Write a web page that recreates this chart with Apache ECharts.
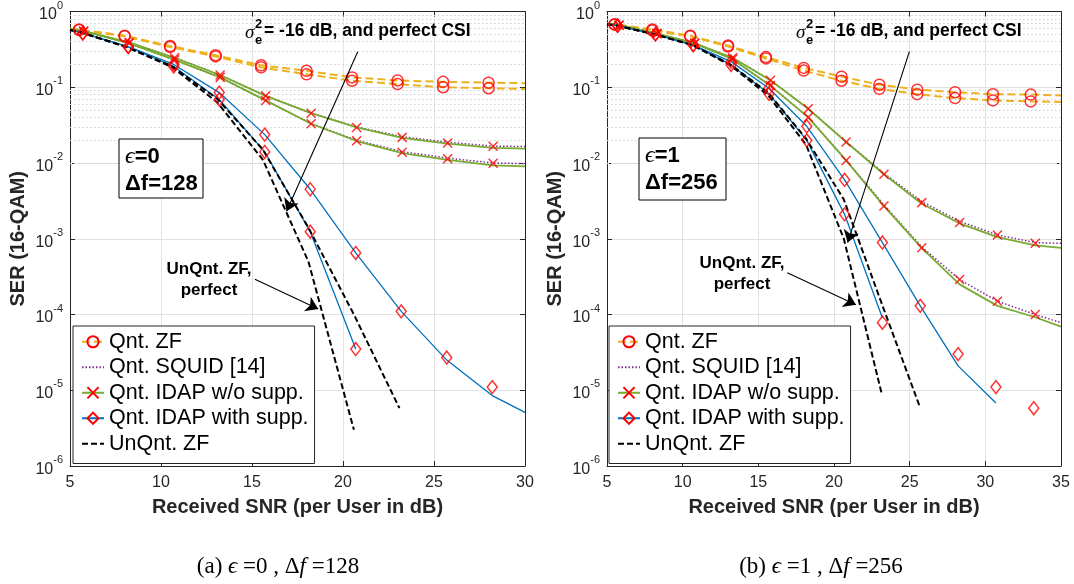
<!DOCTYPE html>
<html>
<head>
<meta charset="utf-8">
<script src="https://cdn.jsdelivr.net/npm/echarts@6/dist/echarts.min.js"></script>
<style>
html, body { margin: 0; padding: 0; background: #fff; }
#container { width: 1074px; height: 584px; }
</style>
</head>
<body>
<div id="container"></div>
<script>
// SER vs received SNR, two panels. "Csi" = sigma_e^2 = -16 dB curve, "Per" = perfect CSI curve

// ---- (a) eps=0, df=128 ----
var aZfX   = [5, 5.5, 8, 10.5, 13, 15.5, 18, 20.5, 23, 25.5, 28, 30];
var aZfCsi = [0.59, 0.58, 0.48, 0.35, 0.265, 0.195, 0.165, 0.135, 0.123, 0.118, 0.115, 0.113];
var aZfPer = [0.59, 0.57, 0.47, 0.34, 0.255, 0.183, 0.148, 0.122, 0.110, 0.100, 0.097, 0.095];
var aZfMkX   = [5.5, 8, 10.5, 13, 15.5, 18, 20.5, 23, 25.5, 28];
var aZfMkCsi = [0.58, 0.48, 0.35, 0.265, 0.195, 0.165, 0.135, 0.123, 0.118, 0.115];
var aZfMkPer = [0.57, 0.47, 0.34, 0.255, 0.183, 0.148, 0.122, 0.110, 0.100, 0.097];

var aIdX   = [5, 5.75, 8.25, 10.75, 13.25, 15.75, 18.25, 20.75, 23.25, 25.75, 28.25, 30];
var aIdCsi = [0.58, 0.55, 0.39, 0.245, 0.145, 0.077, 0.0455, 0.0295, 0.0215, 0.018, 0.0158, 0.0155];
var aIdPer = [0.58, 0.55, 0.38, 0.23, 0.135, 0.067, 0.033, 0.0195, 0.0135, 0.0110, 0.0093, 0.0090];
var aSqCsi = [0.58, 0.55, 0.39, 0.245, 0.145, 0.077, 0.0455, 0.030, 0.0222, 0.0188, 0.0167, 0.0165];
var aSqPer = [0.58, 0.55, 0.38, 0.23, 0.135, 0.067, 0.033, 0.0200, 0.0141, 0.0116, 0.0100, 0.0098];
var aIdMkX   = [5.75, 8.25, 10.75, 13.25, 15.75, 18.25, 20.75, 23.25, 25.75, 28.25];
var aIdMkCsi = [0.55, 0.39, 0.245, 0.145, 0.077, 0.0455, 0.0295, 0.0218, 0.0184, 0.0166];
var aIdMkPer = [0.55, 0.38, 0.23, 0.135, 0.067, 0.033, 0.0197, 0.0139, 0.0114, 0.0099];

var aWsX   = [5, 5.7, 8.2, 10.7, 13.2, 15.7, 18.2, 20.7, 23.2, 25.7, 28.2, 30];
var aWsCsi = [0.57, 0.52, 0.343, 0.2, 0.085, 0.0237, 0.0045, 6.5e-4, 1.1e-4, 2.5e-5, 8.5e-6, 5.1e-6];
var aWsPer = [0.57, 0.52, 0.34, 0.188, 0.069, 0.014, 1.24e-3, 3.5e-5];
var aWsMkX   = [5.7, 8.2, 10.7, 13.2, 15.7, 18.2, 20.7, 23.2, 25.7, 28.2];
var aWsMkCsi = [0.52, 0.343, 0.2, 0.085, 0.0237, 0.0045, 6.5e-4, 1.1e-4, 2.7e-5, 1.1e-5];
var aWsMkPer = [0.51, 0.34, 0.188, 0.069, 0.014, 1.24e-3, 3.5e-5];

var aUnX   = [5, 5.6, 8.1, 10.6, 13.1, 15.6, 18.1, 20.6, 23.1];
var aUnCsi = [0.57, 0.53, 0.34, 0.19, 0.07, 0.015, 1.4e-3, 1.0e-4, 5.8e-6];
var aUnPer = [0.57, 0.53, 0.34, 0.185, 0.063, 0.011, 5.0e-4, 3.0e-6];

// ---- (b) eps=1, df=256 ----
var bZfX   = [5, 5.5, 8, 10.5, 13, 15.5, 18, 20.5, 23, 25.5, 28, 30.5, 33, 35];
var bZfCsi = [0.69, 0.68, 0.58, 0.48, 0.355, 0.25, 0.18, 0.138, 0.108, 0.093, 0.086, 0.081, 0.080, 0.078];
var bZfPer = [0.69, 0.67, 0.56, 0.47, 0.345, 0.24, 0.166, 0.122, 0.095, 0.081, 0.072, 0.067, 0.065, 0.064];
var bZfMkX   = [5.5, 8, 10.5, 13, 15.5, 18, 20.5, 23, 25.5, 28, 30.5, 33];
var bZfMkCsi = [0.68, 0.58, 0.48, 0.355, 0.25, 0.18, 0.138, 0.108, 0.093, 0.086, 0.081, 0.080];
var bZfMkPer = [0.67, 0.56, 0.47, 0.345, 0.24, 0.166, 0.122, 0.095, 0.081, 0.072, 0.067, 0.065];

var bIdX   = [5, 5.8, 8.3, 10.8, 13.3, 15.8, 18.3, 20.8, 23.3, 25.8, 28.3, 30.8, 33.3, 35];
var bIdCsi = [0.69, 0.66, 0.51, 0.38, 0.245, 0.124, 0.052, 0.0189, 0.0071, 0.0029, 0.0016, 1.05e-3, 8.2e-4, 7.6e-4];
var bIdPer = [0.69, 0.66, 0.51, 0.38, 0.235, 0.105, 0.040, 0.0108, 0.0027, 7.5e-4, 2.5e-4, 1.3e-4, 9.2e-5, 6.9e-5];
var bSqCsi = [0.69, 0.66, 0.51, 0.38, 0.245, 0.124, 0.052, 0.0192, 0.0073, 0.0031, 0.0017, 1.12e-3, 8.9e-4, 8.7e-4];
var bSqPer = [0.69, 0.66, 0.51, 0.38, 0.235, 0.105, 0.040, 0.0110, 0.0028, 7.8e-4, 2.9e-4, 1.5e-4, 1.0e-4, 7.8e-5];
var bIdMkX   = [5.8, 8.3, 10.8, 13.3, 15.8, 18.3, 20.8, 23.3, 25.8, 28.3, 30.8, 33.3];
var bIdMkCsi = [0.66, 0.51, 0.38, 0.245, 0.124, 0.052, 0.0189, 0.0071, 0.0030, 0.00164, 1.12e-3, 8.7e-4];
var bIdMkPer = [0.66, 0.51, 0.38, 0.235, 0.105, 0.040, 0.0108, 0.0027, 7.6e-4, 2.9e-4, 1.5e-4, 1.0e-4];

var bWsX   = [5, 5.7, 8.2, 10.7, 13.2, 15.7, 18.2, 20.7, 23.2, 25.7, 28.2, 30.7];
var bWsCsi = [0.68, 0.65, 0.5, 0.36, 0.218, 0.097, 0.0305, 0.006, 8.9e-4, 1.3e-4, 2.1e-5, 6.8e-6];
var bWsPer = [0.68, 0.65, 0.5, 0.36, 0.197, 0.082, 0.0199, 0.0021, 9.0e-5];
var bWsMkX   = [5.7, 8.2, 10.7, 13.2, 15.7, 18.2, 20.7, 23.2, 25.7, 28.2, 30.7, 33.2];
var bWsMkCsi = [0.65, 0.5, 0.36, 0.218, 0.097, 0.0305, 0.006, 8.9e-4, 1.3e-4, 3.0e-5, 1.1e-5, 5.8e-6];
var bWsMkPer = [0.65, 0.5, 0.36, 0.197, 0.082, 0.0199, 0.0021, 7.8e-5];

var bUnX   = [5, 5.65, 8.15, 10.65, 13.15, 15.65, 18.15, 20.65, 23.15, 25.65];
var bUnCsi = [0.68, 0.65, 0.5, 0.36, 0.2, 0.085, 0.021, 3.3e-3, 1.4e-4, 6.2e-6];
var bUnPer = [0.68, 0.65, 0.5, 0.36, 0.195, 0.078, 0.0175, 1.0e-3, 9.0e-6];

// annotation arrows [x0, y0, x1, y1] in data units
var arrowsA = [[20.81, 0.295, 16.9, 0.00231], [15.16, 2.92e-4, 18.64, 1.18e-4]];
var arrowsB = [[24.98, 0.295, 20.9, 8.9e-4], [16.91, 3.57e-4, 21.45, 1.34e-4]];

var legendNames = ['Qnt. ZF', 'Qnt. SQUID [14]', 'Qnt. IDAP w/o supp.', 'Qnt. IDAP with supp.', 'UnQnt. ZF'];

var FONT = '"Liberation Sans", Arial, Helvetica, sans-serif';
var SERIF = '"Liberation Serif", "Times New Roman", serif';
var AXC = '#262626';
var RED = '#ff0000';
var CROSS = 'path://M0,0L10,10M10,0L0,10';

var styles = {
    'Qnt. ZF': { color: '#EDB120', type: [8, 4], width: 2, symbol: 'circle', size: 11 },
    'Qnt. SQUID [14]': { color: '#7E2F8E', type: [1.5, 2], width: 1.5, symbol: 'none' },
    'Qnt. IDAP w/o supp.': { color: '#77AC30', type: 'solid', width: 1.8, symbol: CROSS, size: 9 },
    'Qnt. IDAP with supp.': { color: '#0072BD', type: 'solid', width: 1.3, symbol: 'diamond', size: [10, 13] },
    'UnQnt. ZF': { color: '#000000', type: [6, 3], width: 2, symbol: 'none' }
};

function pairs(xs, ys) {
    return ys.map(function (y, i) { return [xs[i], y]; });
}

function lineSeries(name, xs, ys, ax) {
    var st = styles[name];
    var hidden = st.symbol === 'none';
    return {
        name: name, type: 'line', xAxisIndex: ax, yAxisIndex: ax,
        data: pairs(xs, ys), showSymbol: false,
        symbol: hidden ? 'circle' : st.symbol, symbolSize: 11,
        itemStyle: hidden ? { color: 'rgba(0,0,0,0)', borderColor: 'rgba(0,0,0,0)', borderWidth: 0 }
                          : { color: 'rgba(0,0,0,0)', borderColor: RED, borderWidth: 1.5 },
        lineStyle: { color: st.color, type: st.type, width: st.width },
        silent: true, animation: false, z: 2
    };
}

function markerSeries(name, xs, ys, ax) {
    var st = styles[name];
    return {
        name: '_mk', type: 'scatter', xAxisIndex: ax, yAxisIndex: ax,
        data: pairs(xs, ys), symbol: st.symbol, symbolSize: st.size,
        itemStyle: { color: 'rgba(0,0,0,0)', borderColor: RED, borderWidth: 1.5 },
        silent: true, animation: false, z: 3
    };
}

// host series for the annotation arrows
function arrowSeries(arrows, ax) {
    return {
        name: '_arrow', type: 'line', xAxisIndex: ax, yAxisIndex: ax, data: [], silent: true, z: 5,
        itemStyle: { color: '#000' }, lineStyle: { color: '#000' },
        markLine: {
            silent: true, animation: false, symbol: ['none', 'arrow'], symbolSize: 12,
            label: { show: false },
            lineStyle: { color: '#000', type: 'solid', width: 1.1 },
            itemStyle: { color: '#000' },
            data: arrows.map(function (a) { return [{ coord: [a[0], a[1]] }, { coord: [a[2], a[3]] }]; })
        }
    };
}

// dotted minor grid at 2..9 x 10^k
var minorVals = [];
for (var k = -6; k < 0; k++) {
    for (var m = 2; m <= 9; m++) minorVals.push(m * Math.pow(10, k));
}
function minorGrid(ax) {
    return {
        name: '_grid', type: 'line', xAxisIndex: ax, yAxisIndex: ax, data: [], silent: true, z: 1,
        markLine: {
            silent: true, symbol: 'none', z: 1, label: { show: false }, animation: false,
            lineStyle: { color: '#d2d2d2', type: [1.5, 2.5], width: 1 },
            data: minorVals.map(function (v) { return { yAxis: v }; })
        }
    };
}

function yLabel(v) {
    var e = Math.round(Math.log(v) / Math.LN10);
    return '{b|10}{e|' + e + '}';
}

function makeAxes(gi, xmax) {
    var xs = [{
        gridIndex: gi, type: 'value', min: 5, max: xmax, interval: 5, position: 'bottom',
        axisLine: { show: true, onZero: false, lineStyle: { color: AXC, width: 1 } },
        axisTick: { show: true, inside: true, length: 5, lineStyle: { color: AXC } },
        axisLabel: { fontSize: 16, color: AXC, margin: 9, fontFamily: FONT },
        splitLine: { show: true, lineStyle: { color: '#e2e2e2', width: 1 } },
        name: 'Received SNR (per User in dB)', nameLocation: 'middle', nameGap: 31,
        nameTextStyle: { fontSize: 20, fontWeight: 'bold', color: AXC, fontFamily: FONT }
    }, {
        gridIndex: gi, type: 'value', min: 5, max: xmax, interval: 5, position: 'top',
        axisLine: { show: true, onZero: false, lineStyle: { color: AXC, width: 1 } },
        axisTick: { show: true, inside: true, length: 5, lineStyle: { color: AXC } },
        axisLabel: { show: false }, splitLine: { show: false }
    }];
    var ys = [{
        gridIndex: gi, type: 'log', logBase: 10, min: 1e-6, max: 1, splitNumber: 6, position: 'left',
        axisLine: { show: true, onZero: false, lineStyle: { color: AXC, width: 1 } },
        axisTick: { show: true, inside: true, length: 5, lineStyle: { color: AXC } },
        axisLabel: {
            formatter: yLabel, margin: 7, color: AXC,
            rich: {
                b: { fontSize: 16, fontFamily: FONT, color: AXC, verticalAlign: 'bottom', padding: [7, 0, 0, 0] },
                e: { fontSize: 11, fontFamily: FONT, color: AXC, verticalAlign: 'top' }
            }
        },
        splitLine: { show: true, lineStyle: { color: '#e2e2e2', width: 1 } },
        name: 'SER (16-QAM)', nameLocation: 'middle', nameGap: 42, nameRotate: 90,
        nameTextStyle: { fontSize: 20, fontWeight: 'bold', color: AXC, fontFamily: FONT }
    }, {
        gridIndex: gi, type: 'log', logBase: 10, min: 1e-6, max: 1, splitNumber: 6, position: 'right',
        axisLine: { show: true, onZero: false, lineStyle: { color: AXC, width: 1 } },
        axisTick: { show: true, inside: true, length: 5, lineStyle: { color: AXC } },
        axisLabel: { show: false }, splitLine: { show: false }
    }];
    return { x: xs, y: ys };
}

function panelSeries(ax, d, arrows) {
    var s = [minorGrid(ax)];
    s.push(lineSeries('Qnt. ZF', d.zfX, d.zfCsi, ax));
    s.push(lineSeries('Qnt. ZF', d.zfX, d.zfPer, ax));
    s.push(lineSeries('Qnt. SQUID [14]', d.idX, d.sqCsi, ax));
    s.push(lineSeries('Qnt. SQUID [14]', d.idX, d.sqPer, ax));
    s.push(lineSeries('Qnt. IDAP w/o supp.', d.idX, d.idCsi, ax));
    s.push(lineSeries('Qnt. IDAP w/o supp.', d.idX, d.idPer, ax));
    s.push(lineSeries('Qnt. IDAP with supp.', d.wsX, d.wsCsi, ax));
    s.push(lineSeries('Qnt. IDAP with supp.', d.wsX, d.wsPer, ax));
    s.push(lineSeries('UnQnt. ZF', d.unX, d.unCsi, ax));
    s.push(lineSeries('UnQnt. ZF', d.unX, d.unPer, ax));
    s.push(markerSeries('Qnt. ZF', d.zfMkX, d.zfMkCsi, ax));
    s.push(markerSeries('Qnt. ZF', d.zfMkX, d.zfMkPer, ax));
    s.push(markerSeries('Qnt. IDAP w/o supp.', d.idMkX, d.idMkCsi, ax));
    s.push(markerSeries('Qnt. IDAP w/o supp.', d.idMkX, d.idMkPer, ax));
    s.push(markerSeries('Qnt. IDAP with supp.', d.wsMkX, d.wsMkCsi, ax));
    s.push(markerSeries('Qnt. IDAP with supp.', d.wsMkX, d.wsMkPer, ax));
    s.push(arrowSeries(arrows, ax));
    return s;
}

var panelA = {
    zfX: aZfX, zfCsi: aZfCsi, zfPer: aZfPer, zfMkX: aZfMkX, zfMkCsi: aZfMkCsi, zfMkPer: aZfMkPer,
    idX: aIdX, idCsi: aIdCsi, idPer: aIdPer, sqCsi: aSqCsi, sqPer: aSqPer,
    idMkX: aIdMkX, idMkCsi: aIdMkCsi, idMkPer: aIdMkPer,
    wsX: aWsX, wsCsi: aWsCsi, wsPer: aWsPer, wsMkX: aWsMkX, wsMkCsi: aWsMkCsi, wsMkPer: aWsMkPer,
    unX: aUnX, unCsi: aUnCsi, unPer: aUnPer
};
var panelB = {
    zfX: bZfX, zfCsi: bZfCsi, zfPer: bZfPer, zfMkX: bZfMkX, zfMkCsi: bZfMkCsi, zfMkPer: bZfMkPer,
    idX: bIdX, idCsi: bIdCsi, idPer: bIdPer, sqCsi: bSqCsi, sqPer: bSqPer,
    idMkX: bIdMkX, idMkCsi: bIdMkCsi, idMkPer: bIdMkPer,
    wsX: bWsX, wsCsi: bWsCsi, wsPer: bWsPer, wsMkX: bWsMkX, wsMkCsi: bWsMkCsi, wsMkPer: bWsMkPer,
    unX: bUnX, unCsi: bUnCsi, unPer: bUnPer
};

var axA = makeAxes(0, 30);
var axB = makeAxes(1, 35);

function legendAt(left) {
    return {
        orient: 'vertical', left: left, top: 326, data: legendNames, selectedMode: false,
        itemWidth: 22, itemHeight: 14, itemGap: 0, padding: [3, 6, 7, 8],
        backgroundColor: '#fff', borderColor: AXC, borderWidth: 1, borderRadius: 0,
        textStyle: { fontSize: 21.5, color: '#000', fontFamily: FONT, lineHeight: 25.5 }
    };
}

// sigma_e^2 text: sigma, stacked sup/sub, then the rest
function sigmaText(x, y) {
    return [
        { type: 'text', x: x, y: y + 2, z: 100, style: { text: 'σ', font: 'italic 19px ' + SERIF, fill: '#000', verticalAlign: 'middle' } },
        { type: 'text', x: x + 10, y: y - 7, z: 100, style: { text: '2', font: 'bold 13px ' + FONT, fill: '#000', verticalAlign: 'middle' } },
        { type: 'text', x: x + 10, y: y + 9, z: 100, style: { text: 'e', font: 'bold 13px ' + FONT, fill: '#000', verticalAlign: 'middle' } },
        { type: 'text', x: x + 19, y: y, z: 100, style: { text: '= -16 dB, and perfect CSI', font: 'bold 17.5px ' + FONT, fill: '#000', verticalAlign: 'middle' } }
    ];
}

function unqText(cx, cy) {
    return { type: 'text', x: cx, y: cy, z: 100, style: { text: 'UnQnt. ZF,\nperfect', font: 'bold 17px ' + FONT, fill: '#000', align: 'center', verticalAlign: 'middle', lineHeight: 21 } };
}

function epsBox(x, y, w, h, eps, df) {
    return [
        { type: 'rect', z: 100, shape: { x: x, y: y, width: w, height: h }, style: { fill: '#fff', stroke: '#000', lineWidth: 1 } },
        { type: 'text', x: x + 6, y: y + 18, z: 101, style: {
            text: '{g|ϵ}{t|=' + eps + '}', verticalAlign: 'middle',
            rich: { g: { font: 'italic 24px ' + SERIF, fill: '#000' }, t: { font: 'bold 22px ' + FONT, fill: '#000' } } } },
        { type: 'text', x: x + 6, y: y + 45, z: 101, style: { text: 'Δf=' + df, font: 'bold 22px ' + FONT, fill: '#000', verticalAlign: 'middle' } }
    ];
}

function caption(cx, cy, tag, eps, df) {
    return { type: 'text', x: cx, y: cy, z: 100, style: {
        text: '{r|(' + tag + ') }{i|ϵ}{r| =' + eps + ' , Δ}{i|f}{r| =' + df + '}',
        align: 'center', verticalAlign: 'middle',
        rich: { r: { font: '23px ' + SERIF, fill: '#000' }, i: { font: 'italic 23px ' + SERIF, fill: '#000' } } } };
}

var graphics = []
    .concat(sigmaText(245, 31))
    .concat(sigmaText(796, 31))
    .concat([unqText(209, 280), unqText(742, 274)])
    .concat(epsBox(119, 139, 84, 59, 0, 128))
    .concat(epsBox(639, 138, 87, 62, 1, 256))
    .concat([caption(278, 567, 'a', 0, 128), caption(821, 567, 'b', 1, 256)]);

var chart = echarts.init(document.getElementById('container'));
var option = {
    animation: false,
    backgroundColor: '#fff',
    textStyle: { fontFamily: FONT },
    grid: [
        { left: 70, top: 10, width: 455, height: 456 },
        { left: 607, top: 10, width: 454, height: 456 }
    ],
    xAxis: axA.x.concat(axB.x),
    yAxis: axA.y.concat(axB.y),
    legend: [legendAt(73), legendAt(609)],
    graphic: graphics,
    series: panelSeries(0, panelA, arrowsA).concat(panelSeries(2, panelB, arrowsB))
};
chart.setOption(option);
</script>
</body>
</html>
